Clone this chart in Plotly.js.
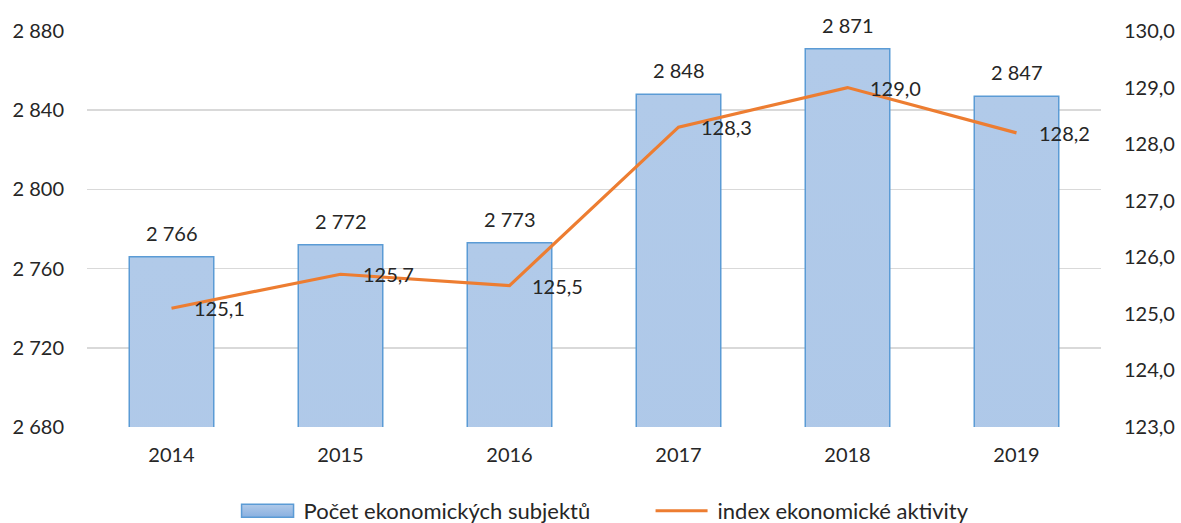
<!DOCTYPE html>
<html>
<head>
<meta charset="utf-8">
<script src="https://cdn.plot.ly/plotly-3.0.1.min.js"></script>
<style>
  html, body { margin: 0; padding: 0; background: #fff; }
  #chart { width: 1181px; height: 523px; }
</style>
</head>
<body>
<div id="chart"></div>
<script>
var years = ['2014', '2015', '2016', '2017', '2018', '2019'];
var subjekty = [2766, 2772, 2773, 2848, 2871, 2847];
var indexAktivity = [125.1, 125.7, 125.5, 128.3, 129.0, 128.2];

var FONT = 'Lato, "Open Sans", sans-serif';
var TXT = '#262626';

function fmtThousands(v) {
  return String(v).replace(/\B(?=(\d{3})+(?!\d))/g, ' ');
}
function fmtDec(v) {
  return v.toFixed(1).replace('.', ',');
}

var barTrace = {
  type: 'bar',
  name: 'Počet ekonomických subjektů',
  x: years,
  y: subjekty,
  width: 0.5,
  marker: {
    color: '#A2C0E6',
    line: { color: '#5B9BD5', width: 1.5 }
  },
  hoverinfo: 'skip'
};

var lineTrace = {
  type: 'scatter',
  mode: 'lines',
  name: 'index ekonomické aktivity',
  x: years,
  y: indexAktivity,
  yaxis: 'y2',
  line: { color: '#ED7D31', width: 3.2 },
  hoverinfo: 'skip'
};

var annotations = [];
for (var i = 0; i < years.length; i++) {
  annotations.push({
    x: i, y: subjekty[i], xref: 'x', yref: 'y',
    text: fmtThousands(subjekty[i]),
    showarrow: false, yanchor: 'bottom', yshift: 10,
    font: { family: FONT, size: 20, color: TXT }
  });
  annotations.push({
    x: i, y: indexAktivity[i], xref: 'x', yref: 'y2',
    text: fmtDec(indexAktivity[i]),
    showarrow: false, xanchor: 'left', yanchor: 'middle', xshift: 20,
    font: { family: FONT, size: 20, color: TXT }
  });
}

var layout = {
  width: 1181,
  height: 523,
  margin: { l: 87, r: 80, t: 31, b: 96 },
  paper_bgcolor: '#fff',
  plot_bgcolor: '#fff',
  separators: ', ',
  font: { family: FONT, size: 20, color: TXT },
  showlegend: true,
  legend: {
    orientation: 'h',
    x: 0.202, xanchor: 'left', xref: 'container',
    y: 0.023, yanchor: 'middle', yref: 'container',
    font: { family: FONT, size: 22, color: TXT },
    itemwidth: 55,
    entrywidth: 344,
    traceorder: 'normal'
  },
  xaxis: {
    type: 'category',
    range: [-0.5, 5.5],
    showgrid: false,
    showline: false,
    ticks: '',
    ticklabelstandoff: 14,
    tickfont: { family: FONT, size: 20, color: TXT }
  },
  yaxis: {
    range: [2680, 2880],
    dtick: 40,
    tick0: 2680,
    tickformat: ',d',
    showgrid: true,
    gridcolor: '#D9D9D9',
    gridwidth: 1.5,
    zeroline: false,
    showline: false,
    ticks: '',
    ticklabelstandoff: 22,
    tickfont: { family: FONT, size: 20, color: TXT }
  },
  yaxis2: {
    range: [123, 130],
    dtick: 1,
    tick0: 123,
    tickformat: '.1f',
    overlaying: 'y',
    side: 'right',
    showgrid: false,
    zeroline: false,
    showline: false,
    ticks: '',
    ticklabelstandoff: 22,
    tickfont: { family: FONT, size: 20, color: TXT }
  },
  annotations: annotations
};

// vertical gradient on the bars and wider legend keys, like the original
function restyleSvg() {
  var gd = document.getElementById('chart');
  var svg = gd.querySelector('svg.main-svg');
  if (!svg) return;
  var ns = 'http://www.w3.org/2000/svg';
  if (!document.getElementById('barGrad')) {
    var defs = svg.querySelector('defs') || svg.insertBefore(document.createElementNS(ns, 'defs'), svg.firstChild);
    var grad = document.createElementNS(ns, 'linearGradient');
    grad.setAttribute('id', 'barGrad');
    grad.setAttribute('x1', '0'); grad.setAttribute('y1', '0');
    grad.setAttribute('x2', '0'); grad.setAttribute('y2', '1');
    [['0', '#B1CAE9'], ['1', '#89B0E0']].forEach(function (s) {
      var stop = document.createElementNS(ns, 'stop');
      stop.setAttribute('offset', s[0]);
      stop.setAttribute('stop-color', s[1]);
      grad.appendChild(stop);
    });
    defs.appendChild(grad);
  }
  gd.querySelectorAll('.barlayer path').forEach(function (p) {
    p.style.setProperty('fill', 'url(#barGrad)', 'important');
  });

  var items = gd.querySelectorAll('.legend .traces');
  if (items[0]) {
    items[0].querySelectorAll('.legendpoints path').forEach(function (p) {
      p.setAttribute('d', 'M3,-6.5H55V6.5H3Z');
      p.removeAttribute('transform');
      p.style.setProperty('fill', 'url(#barGrad)', 'important');
    });
  }
  if (items[1]) {
    items[1].querySelectorAll('path.js-line').forEach(function (p) {
      p.setAttribute('d', 'M3,0H55');
      p.removeAttribute('transform');
    });
  }
}

Plotly.newPlot('chart', [barTrace, lineTrace], layout, { displayModeBar: false, staticPlot: true })
  .then(function (gd) {
    gd.on('plotly_afterplot', restyleSvg);
    restyleSvg();
    setTimeout(restyleSvg, 50);
  });
</script>
</body>
</html>
